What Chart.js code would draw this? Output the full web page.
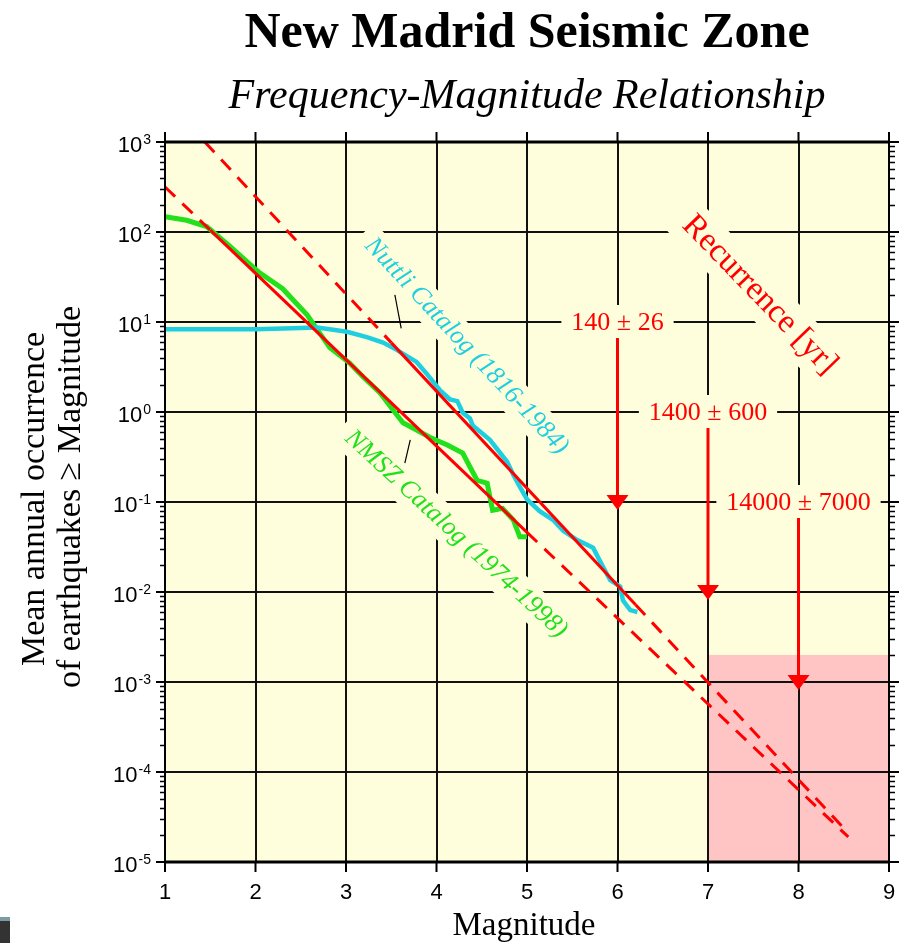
<!DOCTYPE html>
<html>
<head>
<meta charset="utf-8">
<title>New Madrid Seismic Zone</title>
<script src="https://cdn.jsdelivr.net/npm/chart.js@4.4.1/dist/chart.umd.min.js"></script>
<style>
  html, body { margin: 0; padding: 0; background: #fff; }
  #wrap { position: relative; width: 902px; height: 943px; }
  #corner { position: absolute; left: 0; top: 917px; width: 10px; height: 26px; background: #333; border-top: 4px solid #7d9ba2; box-sizing: border-box; }
</style>
</head>
<body>
<div id="wrap">
  <canvas id="chart" width="902" height="943"></canvas>
  <div id="corner"></div>
</div>
<script>
// Nuttli catalog (1816-1984), cumulative annual rate
const nuttliMag = [1.00, 1.50, 2.00, 2.41, 2.68, 2.82, 3.01, 3.23, 3.41, 3.56, 3.78, 3.90, 4.04, 4.15, 4.23, 4.29, 4.37, 4.40, 4.59, 4.78, 4.85, 4.92, 5.00, 5.14, 5.29, 5.40, 5.55, 5.73, 5.84, 5.92, 6.03, 6.06, 6.14, 6.22];
const nuttliRate = [8.3, 8.3, 8.3, 8.5, 8.7, 8.3, 7.8, 6.8, 5.9, 4.9, 3.6, 2.6, 1.74, 1.38, 1.32, 0.98, 0.85, 0.71, 0.49, 0.28, 0.20, 0.148, 0.107, 0.079, 0.063, 0.048, 0.038, 0.031, 0.019, 0.0135, 0.0115, 0.0081, 0.0063, 0.006];

// NMSZ catalog (1974-1998)
const nmszMag = [1.00, 1.24, 1.46, 1.70, 1.97, 2.05, 2.30, 2.57, 2.82, 3.04, 3.19, 3.38, 3.52, 3.63, 3.78, 3.93, 4.12, 4.29, 4.37, 4.45, 4.56, 4.62, 4.73, 4.85, 4.92, 5.00];
const nmszRate = [148, 135, 115, 72, 41, 35, 23.4, 12, 5.2, 3.5, 2.45, 1.62, 1.05, 0.76, 0.63, 0.52, 0.43, 0.35, 0.245, 0.174, 0.162, 0.081, 0.085, 0.063, 0.041, 0.041];

// fitted recurrence lines (dashed where extrapolated)
const fitAMag = [1.0, 1.5, 5.0, 8.55];
const fitARate = [316, 105, 0.046, 0.000019];
const fitADashed = [true, false, true];
const fitBMag = [1.44, 3.5, 6.2, 8.55];
const fitBRate = [1000, 5.9, 0.0072, 0.000021];
const fitBDashed = [true, false, true];

// leader lines from the catalog labels
const nuttliLeaderMag = [3.54, 3.61];
const nuttliLeaderRate = [20, 8.5];
const nmszLeaderMag = [3.71, 3.65];
const nmszLeaderRate = [0.49, 0.27];

// recurrence arrows
const arrowMag = [6, 7, 8];
const arrowRate = [0.1, 0.01, 0.001];
const arrowLabelRate = [10, 1, 0.1];
const arrowLabels = ['140 \u00b1 26', '1400 \u00b1 600', '14000 \u00b1 7000'];

// shaded zone
const zoneMag = [7, 9];
const zoneRate = [0.00001, 0.002];

// axes
const magTicks = [1, 2, 3, 4, 5, 6, 7, 8, 9];
const rateExponents = [3, 2, 1, 0, -1, -2, -3, -4, -5];

const CREAM = '#fffedc';
const RED = '#ff0000';
const CYAN = '#1fcfe0';
const GREEN = '#22e01c';
const SERIF = '"Liberation Serif", "Times New Roman", serif';
const SANS = '"Liberation Sans", Arial, sans-serif';

const pts = (xs, ys) => xs.map((m, i) => ({ x: m, y: ys[i] }));

function boxedText(ctx, text, cx, cy, angle, font, color, padX, boxH) {
  ctx.save();
  ctx.translate(cx, cy);
  ctx.rotate(angle * Math.PI / 180);
  ctx.font = font;
  const w = ctx.measureText(text).width;
  ctx.fillStyle = CREAM;
  ctx.fillRect(-w / 2 - padX, -boxH / 2, w + padX * 2, boxH);
  ctx.fillStyle = color;
  ctx.textAlign = 'center';
  ctx.textBaseline = 'middle';
  ctx.fillText(text, 0, 0);
  ctx.restore();
}

const decorations = {
  id: 'decorations',
  beforeDraw(chart) {
    const { ctx, chartArea: a, scales: { x, y } } = chart;
    ctx.save();
    ctx.fillStyle = CREAM;
    ctx.fillRect(a.left, a.top, a.width, a.height);
    const x1 = x.getPixelForValue(zoneMag[0]), x2 = x.getPixelForValue(zoneMag[1]);
    const y1 = y.getPixelForValue(zoneRate[1]), y2 = y.getPixelForValue(zoneRate[0]);
    ctx.fillStyle = '#ffc4c4';
    ctx.fillRect(x1, y1, x2 - x1, y2 - y1);
    ctx.restore();
  },
  beforeDatasetsDraw(chart) {
    const { ctx, scales: { x, y } } = chart;
    boxedText(ctx, 'Nuttli Catalog (1816-1984)', x.getPixelForValue(4.33), y.getPixelForValue(5.4), 47,
      'italic 26px ' + SERIF, CYAN, 10, 34);
    boxedText(ctx, 'NMSZ Catalog (1974-1998)', x.getPixelForValue(4.215), y.getPixelForValue(0.044), 42.8,
      'italic 26px ' + SERIF, GREEN, 10, 34);
    boxedText(ctx, 'Recurrence [yr]', x.getPixelForValue(7.57), y.getPixelForValue(20), 46,
      '33px ' + SERIF, RED, 12, 44);
    arrowLabels.forEach((t, i) => {
      boxedText(ctx, t, x.getPixelForValue(arrowMag[i]), y.getPixelForValue(arrowLabelRate[i]) + 1, 0,
        '26px ' + SERIF, RED, 10, 36);
    });
  },
  afterDatasetsDraw(chart) {
    const { ctx, scales: { x, y } } = chart;
    ctx.save();
    ctx.strokeStyle = RED;
    ctx.fillStyle = RED;
    ctx.lineWidth = 3;
    arrowMag.forEach((m, i) => {
      const px = x.getPixelForValue(m);
      const top = y.getPixelForValue(arrowLabelRate[i]) + 16;
      const tip = y.getPixelForValue(arrowRate[i]);
      ctx.beginPath();
      ctx.moveTo(px, top);
      ctx.lineTo(px, tip - 6);
      ctx.stroke();
      ctx.beginPath();
      ctx.moveTo(px - 11, tip - 7);
      ctx.lineTo(px + 11, tip - 7);
      ctx.lineTo(px, tip + 8);
      ctx.closePath();
      ctx.fill();
    });
    ctx.restore();
  },
  afterDraw(chart) {
    const { ctx, chartArea: a, scales: { x, y } } = chart;
    ctx.save();
    ctx.strokeStyle = '#000';
    // frame
    ctx.lineWidth = 3;
    ctx.beginPath();
    ctx.moveTo(a.left - 1, a.top); ctx.lineTo(a.right + 1, a.top);
    ctx.moveTo(a.left - 1, a.bottom); ctx.lineTo(a.right + 1, a.bottom);
    ctx.stroke();
    ctx.lineWidth = 2;
    ctx.beginPath();
    ctx.moveTo(a.left, a.top); ctx.lineTo(a.left, a.bottom);
    ctx.moveTo(a.right, a.top); ctx.lineTo(a.right, a.bottom);
    ctx.stroke();

    // major ticks
    ctx.lineWidth = 2;
    ctx.beginPath();
    magTicks.forEach(m => {
      const px = x.getPixelForValue(m);
      ctx.moveTo(px, a.bottom); ctx.lineTo(px, a.bottom + 10);
      ctx.moveTo(px, a.top); ctx.lineTo(px, a.top - 10);
    });
    rateExponents.forEach(e => {
      const py = y.getPixelForValue(Math.pow(10, e));
      ctx.moveTo(a.left - 9, py); ctx.lineTo(a.left, py);
      ctx.moveTo(a.right, py); ctx.lineTo(a.right + 10, py);
    });
    ctx.stroke();

    // minor log ticks
    ctx.lineWidth = 1.5;
    ctx.beginPath();
    rateExponents.slice(1).forEach(e => {
      for (let k = 2; k <= 9; k++) {
        const py = Math.round(y.getPixelForValue(k * Math.pow(10, e))) + 0.5;
        ctx.moveTo(a.left - 5, py); ctx.lineTo(a.left, py);
        ctx.moveTo(a.right, py); ctx.lineTo(a.right + 6, py);
      }
    });
    ctx.stroke();

    // tick labels
    ctx.fillStyle = '#000';
    ctx.textBaseline = 'alphabetic';
    ctx.textAlign = 'center';
    ctx.font = '22px ' + SANS;
    magTicks.forEach(m => ctx.fillText(String(m), x.getPixelForValue(m), 899));
    rateExponents.forEach(e => {
      const py = y.getPixelForValue(Math.pow(10, e));
      const exp = String(e);
      ctx.font = '14px ' + SANS;
      const ew = ctx.measureText(exp).width;
      ctx.textAlign = 'left';
      ctx.fillText(exp, 151 - ew, py + 2);
      ctx.font = '22px ' + SANS;
      ctx.textAlign = 'right';
      ctx.fillText('10', 151 - ew - 1, py + 10);
    });

    // titles
    ctx.textAlign = 'center';
    ctx.font = 'bold 50px ' + SERIF;
    ctx.fillText('New Madrid Seismic Zone', 527, 47);
    ctx.font = 'italic 42px ' + SERIF;
    ctx.fillText('Frequency-Magnitude Relationship', 527, 108);
    ctx.font = '33px ' + SERIF;
    ctx.fillText('Magnitude', 524, 935);

    ctx.save();
    ctx.translate(44, 499);
    ctx.rotate(-Math.PI / 2);
    ctx.font = '34px ' + SERIF;
    ctx.fillText('Mean annual occurrence', 0, 0);
    ctx.restore();
    ctx.save();
    ctx.translate(80, 497);
    ctx.rotate(-Math.PI / 2);
    ctx.font = '34px ' + SERIF;
    ctx.fillText('of earthquakes \u2265 Magnitude', 0, 0);
    ctx.restore();

    ctx.restore();
  }
};

const dashStyle = flags => ({ borderDash: c => flags[c.p0DataIndex] ? [14, 10] : [] });

new Chart(document.getElementById('chart').getContext('2d'), {
  type: 'line',
  data: {
    datasets: [
      { label: 'fit B', data: pts(fitBMag, fitBRate), borderColor: RED, borderWidth: 3, segment: dashStyle(fitBDashed) },
      { label: 'fit A', data: pts(fitAMag, fitARate), borderColor: RED, borderWidth: 3, segment: dashStyle(fitADashed) },
      { label: 'Nuttli leader', data: pts(nuttliLeaderMag, nuttliLeaderRate), borderColor: '#000', borderWidth: 1.2 },
      { label: 'NMSZ leader', data: pts(nmszLeaderMag, nmszLeaderRate), borderColor: '#000', borderWidth: 1.2 },
      { label: 'Nuttli Catalog', data: pts(nuttliMag, nuttliRate), borderColor: CYAN, borderWidth: 4.5 },
      { label: 'NMSZ Catalog', data: pts(nmszMag, nmszRate), borderColor: GREEN, borderWidth: 5 }
    ]
  },
  options: {
    responsive: false,
    animation: false,
    devicePixelRatio: 1,
    elements: { point: { radius: 0 }, line: { tension: 0, fill: false } },
    layout: { padding: { left: 165, right: 13, top: 142, bottom: 81 } },
    plugins: { legend: { display: false }, tooltip: { enabled: false }, title: { display: false } },
    scales: {
      x: {
        type: 'linear', min: 1, max: 9,
        afterBuildTicks: s => { s.ticks = magTicks.map(v => ({ value: v })); },
        afterFit: s => { s.height = 0; },
        ticks: { display: false },
        grid: { color: '#111', lineWidth: 2, drawTicks: false },
        border: { display: false }
      },
      y: {
        type: 'logarithmic', min: 1e-5, max: 1e3,
        afterBuildTicks: s => { s.ticks = rateExponents.map(e => ({ value: Math.pow(10, e) })); },
        afterFit: s => { s.width = 0; },
        ticks: { display: false },
        grid: { color: '#111', lineWidth: 2, drawTicks: false },
        border: { display: false }
      }
    }
  },
  plugins: [decorations]
});
</script>
</body>
</html>
